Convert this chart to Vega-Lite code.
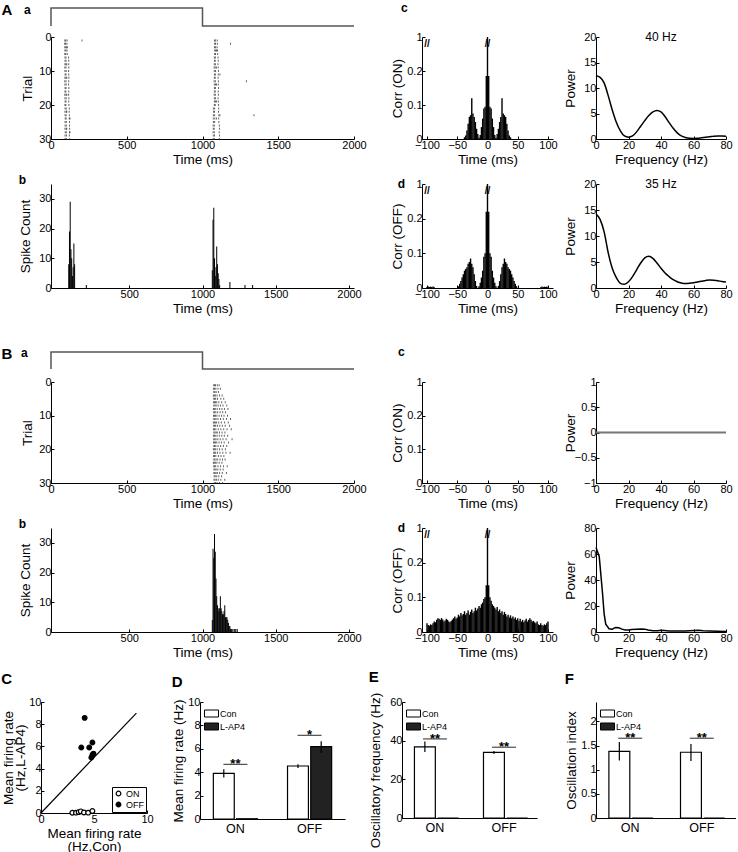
{
"$schema": "https://vega.github.io/schema/vega-lite/v6.json",
"background": "white",
"padding": {"left": 1, "top": 1, "right": 0, "bottom": 0},
"config": {
  "font": "Liberation Sans",
  "view": {"stroke": null},
  "axis": {"grid": false, "domainColor": "#000", "domainWidth": 1, "tickColor": "#000", "tickSize": -3, "labelPadding": 3, "labelColor": "#000", "labelFontSize": 11, "titleColor": "#000", "titleFontSize": 13.5, "titleFontWeight": "normal", "titlePadding": 2, "labelFlush": false, "labelOverlap": false},
  "title": {"fontSize": 12, "fontWeight": "bold", "color": "#000", "anchor": "start", "baseline": "alphabetic"}
},
"datasets": {
  "stim": [{"i":0,"t":0,"s":0},{"i":1,"t":0,"s":1},{"i":2,"t":1000,"s":1},{"i":3,"t":1000,"s":0},{"i":4,"t":2000,"s":0}],
  "blank": [{}],
  "rasterA": [
{"r":1,"t":91},{"r":1,"t":97},{"r":1,"t":106},{"r":1,"t":1079},{"r":1,"t":1085},{"r":1,"t":1097},{"r":1,"t":205},
{"r":2,"t":90},{"r":2,"t":96},{"r":2,"t":105},{"r":2,"t":1080},{"r":2,"t":1086},{"r":2,"t":1098},{"r":2,"t":1185},
{"r":3,"t":91},{"r":3,"t":97},{"r":3,"t":104},{"r":3,"t":107},{"r":3,"t":1079},{"r":3,"t":1086},{"r":3,"t":1096},
{"r":4,"t":92},{"r":4,"t":98},{"r":4,"t":106},{"r":4,"t":1081},{"r":4,"t":1087},{"r":4,"t":1092},{"r":4,"t":1099},
{"r":5,"t":91},{"r":5,"t":97},{"r":5,"t":107},{"r":5,"t":1080},{"r":5,"t":1086},{"r":5,"t":1100},
{"r":6,"t":92},{"r":6,"t":99},{"r":6,"t":116},{"r":6,"t":1078},{"r":6,"t":1085},{"r":6,"t":1103},
{"r":7,"t":93},{"r":7,"t":99},{"r":7,"t":117},{"r":7,"t":1079},{"r":7,"t":1084},{"r":7,"t":1104},
{"r":8,"t":92},{"r":8,"t":98},{"r":8,"t":104},{"r":8,"t":117},{"r":8,"t":1078},{"r":8,"t":1085},{"r":8,"t":1102},
{"r":9,"t":91},{"r":9,"t":99},{"r":9,"t":118},{"r":9,"t":1077},{"r":9,"t":1084},{"r":9,"t":1092},{"r":9,"t":1104},
{"r":10,"t":92},{"r":10,"t":100},{"r":10,"t":116},{"r":10,"t":1078},{"r":10,"t":1086},{"r":10,"t":1105},
{"r":11,"t":93},{"r":11,"t":99},{"r":11,"t":117},{"r":11,"t":1079},{"r":11,"t":1085},{"r":11,"t":1104},{"r":11,"t":1115},
{"r":12,"t":92},{"r":12,"t":98},{"r":12,"t":104},{"r":12,"t":118},{"r":12,"t":1078},{"r":12,"t":1084},{"r":12,"t":1103},
{"r":13,"t":91},{"r":13,"t":99},{"r":13,"t":117},{"r":13,"t":1077},{"r":13,"t":1085},{"r":13,"t":1105},{"r":13,"t":1290},
{"r":14,"t":92},{"r":14,"t":100},{"r":14,"t":116},{"r":14,"t":1078},{"r":14,"t":1086},{"r":14,"t":1092},{"r":14,"t":1104},
{"r":15,"t":93},{"r":15,"t":99},{"r":15,"t":118},{"r":15,"t":1079},{"r":15,"t":1085},{"r":15,"t":1106},
{"r":16,"t":92},{"r":16,"t":98},{"r":16,"t":117},{"r":16,"t":1078},{"r":16,"t":1084},{"r":16,"t":1104},
{"r":17,"t":91},{"r":17,"t":99},{"r":17,"t":104},{"r":17,"t":116},{"r":17,"t":1077},{"r":17,"t":1085},{"r":17,"t":1105},
{"r":18,"t":92},{"r":18,"t":100},{"r":18,"t":118},{"r":18,"t":1078},{"r":18,"t":1086},{"r":18,"t":1103},
{"r":19,"t":93},{"r":19,"t":99},{"r":19,"t":117},{"r":19,"t":1079},{"r":19,"t":1085},{"r":19,"t":1092},{"r":19,"t":1104},
{"r":20,"t":92},{"r":20,"t":98},{"r":20,"t":118},{"r":20,"t":1078},{"r":20,"t":1084},{"r":20,"t":1106},
{"r":21,"t":93},{"r":21,"t":100},{"r":21,"t":121},{"r":21,"t":1072},{"r":21,"t":1080},{"r":21,"t":1107},
{"r":22,"t":92},{"r":22,"t":101},{"r":22,"t":104},{"r":22,"t":120},{"r":22,"t":1073},{"r":22,"t":1079},{"r":22,"t":1106},
{"r":23,"t":93},{"r":23,"t":100},{"r":23,"t":121},{"r":23,"t":1072},{"r":23,"t":1080},{"r":23,"t":1108},{"r":23,"t":1115},{"r":23,"t":1340},
{"r":24,"t":94},{"r":24,"t":100},{"r":24,"t":121},{"r":24,"t":125},{"r":24,"t":1071},{"r":24,"t":1081},{"r":24,"t":1092},{"r":24,"t":1107},
{"r":25,"t":93},{"r":25,"t":101},{"r":25,"t":122},{"r":25,"t":1072},{"r":25,"t":1080},{"r":25,"t":1108},
{"r":26,"t":93},{"r":26,"t":101},{"r":26,"t":122},{"r":26,"t":1070},{"r":26,"t":1078},{"r":26,"t":1111},
{"r":27,"t":92},{"r":27,"t":100},{"r":27,"t":104},{"r":27,"t":123},{"r":27,"t":1071},{"r":27,"t":1077},{"r":27,"t":1112},
{"r":28,"t":94},{"r":28,"t":101},{"r":28,"t":122},{"r":28,"t":125},{"r":28,"t":1070},{"r":28,"t":1078},{"r":28,"t":1110},
{"r":29,"t":93},{"r":29,"t":102},{"r":29,"t":121},{"r":29,"t":1071},{"r":29,"t":1079},{"r":29,"t":1112},
{"r":30,"t":93},{"r":30,"t":101},{"r":30,"t":123},{"r":30,"t":1070},{"r":30,"t":1078},{"r":30,"t":1111}
  ],
  "rasterB": [
{"r":1,"t":1074},{"r":1,"t":1080},{"r":1,"t":1086},{"r":1,"t":1098},{"r":1,"t":1110},
{"r":2,"t":1073},{"r":2,"t":1079},{"r":2,"t":1088},{"r":2,"t":1102},{"r":2,"t":1118},
{"r":3,"t":1075},{"r":3,"t":1081},{"r":3,"t":1090},{"r":3,"t":1105},
{"r":4,"t":1072},{"r":4,"t":1078},{"r":4,"t":1085},{"r":4,"t":1096},{"r":4,"t":1112},{"r":4,"t":1130},
{"r":5,"t":1074},{"r":5,"t":1080},{"r":5,"t":1087},{"r":5,"t":1099},{"r":5,"t":1121},{"r":5,"t":1140},
{"r":6,"t":1073},{"r":6,"t":1079},{"r":6,"t":1086},{"r":6,"t":1094},{"r":6,"t":1108},{"r":6,"t":1127},{"r":6,"t":1150},
{"r":7,"t":1075},{"r":7,"t":1082},{"r":7,"t":1090},{"r":7,"t":1103},{"r":7,"t":1118},{"r":7,"t":1135},{"r":7,"t":1160},
{"r":8,"t":1072},{"r":8,"t":1078},{"r":8,"t":1084},{"r":8,"t":1097},{"r":8,"t":1113},{"r":8,"t":1128},{"r":8,"t":1145},{"r":8,"t":1168},
{"r":9,"t":1074},{"r":9,"t":1080},{"r":9,"t":1088},{"r":9,"t":1100},{"r":9,"t":1116},{"r":9,"t":1133},{"r":9,"t":1152},
{"r":10,"t":1073},{"r":10,"t":1079},{"r":10,"t":1086},{"r":10,"t":1095},{"r":10,"t":1110},{"r":10,"t":1126},{"r":10,"t":1142},{"r":10,"t":1165},
{"r":11,"t":1075},{"r":11,"t":1081},{"r":11,"t":1089},{"r":11,"t":1102},{"r":11,"t":1119},{"r":11,"t":1137},{"r":11,"t":1158},{"r":11,"t":1185},
{"r":12,"t":1072},{"r":12,"t":1078},{"r":12,"t":1085},{"r":12,"t":1093},{"r":12,"t":1107},{"r":12,"t":1124},{"r":12,"t":1146},{"r":12,"t":1170},
{"r":13,"t":1074},{"r":13,"t":1080},{"r":13,"t":1087},{"r":13,"t":1099},{"r":13,"t":1114},{"r":13,"t":1131},{"r":13,"t":1150},{"r":13,"t":1178},
{"r":14,"t":1073},{"r":14,"t":1079},{"r":14,"t":1088},{"r":14,"t":1104},{"r":14,"t":1121},{"r":14,"t":1140},{"r":14,"t":1162},{"r":14,"t":1190},
{"r":15,"t":1075},{"r":15,"t":1082},{"r":15,"t":1090},{"r":15,"t":1098},{"r":15,"t":1112},{"r":15,"t":1129},{"r":15,"t":1148},
{"r":16,"t":1072},{"r":16,"t":1078},{"r":16,"t":1084},{"r":16,"t":1096},{"r":16,"t":1111},{"r":16,"t":1127},{"r":16,"t":1144},{"r":16,"t":1166},
{"r":17,"t":1074},{"r":17,"t":1081},{"r":17,"t":1089},{"r":17,"t":1101},{"r":17,"t":1117},{"r":17,"t":1135},{"r":17,"t":1156},{"r":17,"t":1195},
{"r":18,"t":1073},{"r":18,"t":1079},{"r":18,"t":1086},{"r":18,"t":1094},{"r":18,"t":1109},{"r":18,"t":1125},{"r":18,"t":1143},{"r":18,"t":1172},
{"r":19,"t":1075},{"r":19,"t":1080},{"r":19,"t":1088},{"r":19,"t":1103},{"r":19,"t":1120},{"r":19,"t":1138},{"r":19,"t":1160},
{"r":20,"t":1072},{"r":20,"t":1078},{"r":20,"t":1085},{"r":20,"t":1097},{"r":20,"t":1113},{"r":20,"t":1130},{"r":20,"t":1151},
{"r":21,"t":1074},{"r":21,"t":1080},{"r":21,"t":1087},{"r":21,"t":1099},{"r":21,"t":1115},{"r":21,"t":1134},{"r":21,"t":1155},{"r":21,"t":1182},
{"r":22,"t":1073},{"r":22,"t":1079},{"r":22,"t":1088},{"r":22,"t":1105},{"r":22,"t":1122},{"r":22,"t":1141},
{"r":23,"t":1075},{"r":23,"t":1081},{"r":23,"t":1090},{"r":23,"t":1100},{"r":23,"t":1116},{"r":23,"t":1132},{"r":23,"t":1149},
{"r":24,"t":1072},{"r":24,"t":1078},{"r":24,"t":1085},{"r":24,"t":1095},{"r":24,"t":1110},{"r":24,"t":1128},
{"r":25,"t":1074},{"r":25,"t":1080},{"r":25,"t":1087},{"r":25,"t":1102},{"r":25,"t":1119},{"r":25,"t":1139},{"r":25,"t":1163},
{"r":26,"t":1076},{"r":26,"t":1082},{"r":26,"t":1090},{"r":26,"t":1101},{"r":26,"t":1117},{"r":26,"t":1136},
{"r":27,"t":1075},{"r":27,"t":1081},{"r":27,"t":1089},{"r":27,"t":1098},{"r":27,"t":1113},{"r":27,"t":1131},{"r":27,"t":1158},
{"r":28,"t":1077},{"r":28,"t":1084},{"r":28,"t":1094},{"r":28,"t":1108},{"r":28,"t":1126},
{"r":29,"t":1076},{"r":29,"t":1083},{"r":29,"t":1092},{"r":29,"t":1104},{"r":29,"t":1121},{"r":29,"t":1147},
{"r":30,"t":1078},{"r":30,"t":1086},{"r":30,"t":1097},{"r":30,"t":1112},{"r":30,"t":1133}
  ],
  "histA": [{"t":87,"n":8},{"t":92,"n":19},{"t":97,"n":29},{"t":102,"n":13},{"t":107,"n":10},{"t":112,"n":4},{"t":117,"n":7},{"t":122,"n":15},{"t":127,"n":8},{"t":207,"n":1},{"t":1067,"n":6},{"t":1072,"n":23},{"t":1077,"n":27},{"t":1082,"n":10},{"t":1087,"n":4},{"t":1092,"n":7},{"t":1097,"n":14},{"t":1102,"n":8},{"t":1107,"n":5},{"t":1112,"n":3},{"t":1117,"n":1},{"t":1187,"n":2},{"t":1290,"n":1},{"t":1342,"n":1}],
  "histB": [{"t":1067,"n":4},{"t":1072,"n":28},{"t":1077,"n":25},{"t":1082,"n":33},{"t":1087,"n":27},{"t":1092,"n":18},{"t":1097,"n":12},{"t":1102,"n":9},{"t":1107,"n":8},{"t":1112,"n":7},{"t":1117,"n":8},{"t":1122,"n":12},{"t":1127,"n":8},{"t":1132,"n":7},{"t":1137,"n":6},{"t":1142,"n":6},{"t":1147,"n":7},{"t":1152,"n":9},{"t":1157,"n":5},{"t":1162,"n":5},{"t":1167,"n":5},{"t":1172,"n":4},{"t":1177,"n":3},{"t":1182,"n":2},{"t":1187,"n":2},{"t":1192,"n":1},{"t":1197,"n":1},{"t":1207,"n":1},{"t":1217,"n":1},{"t":1227,"n":1},{"t":1237,"n":1}],
  "corrAon": [{"c":-38,"v":0.005},{"c":-36,"v":0.01},{"c":-34,"v":0.025},{"c":-32,"v":0.045},{"c":-30,"v":0.065},{"c":-28,"v":0.07},{"c":-26,"v":0.12},{"c":-24,"v":0.075},{"c":-22,"v":0.065},{"c":-20,"v":0.05},{"c":-18,"v":0.03},{"c":-16,"v":0.015},{"c":-14,"v":0.004},{"c":-12,"v":0.012},{"c":-10,"v":0.035},{"c":-8,"v":0.06},{"c":-6,"v":0.09},{"c":-4,"v":0.095},{"c":-2,"v":0.185},{"c":0,"v":1},{"c":2,"v":0.185},{"c":4,"v":0.095},{"c":6,"v":0.09},{"c":8,"v":0.06},{"c":10,"v":0.035},{"c":12,"v":0.012},{"c":14,"v":0.004},{"c":16,"v":0.015},{"c":18,"v":0.03},{"c":20,"v":0.05},{"c":22,"v":0.065},{"c":24,"v":0.12},{"c":26,"v":0.075},{"c":28,"v":0.07},{"c":30,"v":0.065},{"c":32,"v":0.045},{"c":34,"v":0.025},{"c":36,"v":0.01},{"c":38,"v":0.005}],
  "corrAoff": [{"c":-100,"v":0.003},{"c":-98,"v":0.004},{"c":-96,"v":0.003},{"c":-94,"v":0.004},{"c":-92,"v":0.003},{"c":-90,"v":0.004},{"c":-88,"v":0.002},{"c":-48,"v":0.005},{"c":-46,"v":0.012},{"c":-44,"v":0.02},{"c":-42,"v":0.03},{"c":-40,"v":0.04},{"c":-38,"v":0.05},{"c":-36,"v":0.055},{"c":-34,"v":0.06},{"c":-32,"v":0.07},{"c":-30,"v":0.075},{"c":-28,"v":0.085},{"c":-26,"v":0.07},{"c":-24,"v":0.06},{"c":-22,"v":0.04},{"c":-20,"v":0.02},{"c":-18,"v":0.006},{"c":-14,"v":0.005},{"c":-12,"v":0.015},{"c":-10,"v":0.03},{"c":-8,"v":0.05},{"c":-6,"v":0.09},{"c":-4,"v":0.1},{"c":-2,"v":0.22},{"c":0,"v":1},{"c":2,"v":0.22},{"c":4,"v":0.1},{"c":6,"v":0.09},{"c":8,"v":0.05},{"c":10,"v":0.03},{"c":12,"v":0.015},{"c":14,"v":0.005},{"c":18,"v":0.006},{"c":20,"v":0.02},{"c":22,"v":0.04},{"c":24,"v":0.06},{"c":26,"v":0.07},{"c":28,"v":0.085},{"c":30,"v":0.075},{"c":32,"v":0.07},{"c":34,"v":0.06},{"c":36,"v":0.055},{"c":38,"v":0.05},{"c":40,"v":0.04},{"c":42,"v":0.03},{"c":44,"v":0.02},{"c":46,"v":0.012},{"c":48,"v":0.005},{"c":88,"v":0.002},{"c":90,"v":0.004},{"c":92,"v":0.003},{"c":94,"v":0.004},{"c":96,"v":0.003},{"c":98,"v":0.004},{"c":100,"v":0.003}],
  "corrBon": [{"c":0,"v":0}],
  "corrBoff": [{"c":-100,"v":0.025},{"c":-98,"v":0.02},{"c":-96,"v":0.018},{"c":-94,"v":0.022},{"c":-92,"v":0.02},{"c":-90,"v":0.025},{"c":-88,"v":0.03},{"c":-86,"v":0.028},{"c":-84,"v":0.035},{"c":-82,"v":0.04},{"c":-80,"v":0.038},{"c":-78,"v":0.035},{"c":-76,"v":0.04},{"c":-74,"v":0.036},{"c":-72,"v":0.03},{"c":-70,"v":0.033},{"c":-68,"v":0.038},{"c":-66,"v":0.035},{"c":-64,"v":0.03},{"c":-62,"v":0.028},{"c":-60,"v":0.032},{"c":-58,"v":0.036},{"c":-56,"v":0.04},{"c":-54,"v":0.045},{"c":-52,"v":0.038},{"c":-50,"v":0.042},{"c":-48,"v":0.05},{"c":-46,"v":0.045},{"c":-44,"v":0.055},{"c":-42,"v":0.048},{"c":-40,"v":0.052},{"c":-38,"v":0.06},{"c":-36,"v":0.05},{"c":-34,"v":0.055},{"c":-32,"v":0.062},{"c":-30,"v":0.05},{"c":-28,"v":0.058},{"c":-26,"v":0.065},{"c":-24,"v":0.055},{"c":-22,"v":0.06},{"c":-20,"v":0.07},{"c":-18,"v":0.062},{"c":-16,"v":0.068},{"c":-14,"v":0.075},{"c":-12,"v":0.07},{"c":-10,"v":0.08},{"c":-8,"v":0.085},{"c":-6,"v":0.095},{"c":-4,"v":0.1},{"c":-2,"v":0.135},{"c":0,"v":1},{"c":2,"v":0.135},{"c":4,"v":0.1},{"c":6,"v":0.09},{"c":8,"v":0.08},{"c":10,"v":0.075},{"c":12,"v":0.07},{"c":14,"v":0.065},{"c":16,"v":0.072},{"c":18,"v":0.06},{"c":20,"v":0.065},{"c":22,"v":0.055},{"c":24,"v":0.06},{"c":26,"v":0.05},{"c":28,"v":0.058},{"c":30,"v":0.052},{"c":32,"v":0.045},{"c":34,"v":0.05},{"c":36,"v":0.042},{"c":38,"v":0.048},{"c":40,"v":0.04},{"c":42,"v":0.045},{"c":44,"v":0.038},{"c":46,"v":0.042},{"c":48,"v":0.035},{"c":50,"v":0.04},{"c":52,"v":0.032},{"c":54,"v":0.038},{"c":56,"v":0.03},{"c":58,"v":0.035},{"c":60,"v":0.028},{"c":62,"v":0.033},{"c":64,"v":0.038},{"c":66,"v":0.03},{"c":68,"v":0.035},{"c":70,"v":0.04},{"c":72,"v":0.035},{"c":74,"v":0.03},{"c":76,"v":0.032},{"c":78,"v":0.028},{"c":80,"v":0.025},{"c":82,"v":0.03},{"c":84,"v":0.022},{"c":86,"v":0.02},{"c":88,"v":0.025},{"c":90,"v":0.02},{"c":92,"v":0.018},{"c":94,"v":0.022},{"c":96,"v":0.02},{"c":98,"v":0.025},{"c":100,"v":0.03}],
  "brk": [{"c":-100,"v":0.28},{"c":0,"v":0.28}],
  "powAon": [{"f":0,"p":12.4},{"f":2.5,"p":12.1},{"f":5,"p":11},{"f":7.5,"p":8.5},{"f":10,"p":5.7},{"f":12.5,"p":3.3},{"f":15,"p":1.6},{"f":17.5,"p":0.6},{"f":20,"p":0.35},{"f":22.5,"p":0.6},{"f":25,"p":1.4},{"f":27.5,"p":2.5},{"f":30,"p":3.6},{"f":32.5,"p":4.6},{"f":35,"p":5.3},{"f":37.5,"p":5.6},{"f":40,"p":5.3},{"f":42.5,"p":4.4},{"f":45,"p":3.2},{"f":47.5,"p":2.1},{"f":50,"p":1.2},{"f":52.5,"p":0.6},{"f":55,"p":0.3},{"f":57.5,"p":0.15},{"f":60,"p":0.12},{"f":62.5,"p":0.15},{"f":65,"p":0.25},{"f":67.5,"p":0.35},{"f":70,"p":0.45},{"f":72.5,"p":0.55},{"f":75,"p":0.6},{"f":77.5,"p":0.6},{"f":80,"p":0.55}],
  "powAoff": [{"f":0,"p":14.2},{"f":2.5,"p":13.2},{"f":5,"p":10.8},{"f":7.5,"p":6.8},{"f":10,"p":3.8},{"f":12.5,"p":2.0},{"f":15,"p":0.9},{"f":17.5,"p":0.7},{"f":20,"p":1.2},{"f":22.5,"p":2.2},{"f":25,"p":3.5},{"f":27.5,"p":4.8},{"f":30,"p":5.8},{"f":32.5,"p":6.1},{"f":35,"p":5.7},{"f":37.5,"p":4.8},{"f":40,"p":3.8},{"f":42.5,"p":2.9},{"f":45,"p":2.2},{"f":47.5,"p":1.6},{"f":50,"p":1.2},{"f":52.5,"p":0.95},{"f":55,"p":0.85},{"f":57.5,"p":0.9},{"f":60,"p":1.0},{"f":62.5,"p":1.15},{"f":65,"p":1.3},{"f":67.5,"p":1.45},{"f":70,"p":1.55},{"f":72.5,"p":1.5},{"f":75,"p":1.4},{"f":77.5,"p":1.25},{"f":80,"p":1.15}],
  "powBon": [{"f":0,"p":0},{"f":80,"p":0}],
  "powBoff": [{"f":0,"p":65},{"f":2,"p":58},{"f":4,"p":30},{"f":5,"p":14},{"f":6,"p":6},{"f":8,"p":2.5},{"f":10,"p":2.2},{"f":12,"p":3.5},{"f":14,"p":3.2},{"f":16,"p":2.2},{"f":18,"p":1.5},{"f":20,"p":1.6},{"f":22,"p":2},{"f":25,"p":2.2},{"f":28,"p":2.3},{"f":30,"p":2.2},{"f":32,"p":1.5},{"f":35,"p":0.9},{"f":38,"p":1.0},{"f":40,"p":1.3},{"f":42,"p":1.1},{"f":45,"p":0.8},{"f":50,"p":0.7},{"f":55,"p":0.8},{"f":60,"p":1.2},{"f":63,"p":1.4},{"f":66,"p":1.0},{"f":70,"p":0.8},{"f":75,"p":0.6},{"f":80,"p":0.4}],
  "diag": [{"x":0,"y":0},{"x":9,"y":9}],
  "scatter": [{"type":"ON","x":2.95,"y":0.02},{"type":"ON","x":3.3,"y":0.03},{"type":"ON","x":3.55,"y":0.08},{"type":"ON","x":3.75,"y":0.15},{"type":"ON","x":4.05,"y":0.05},{"type":"ON","x":4.45,"y":0.03},{"type":"ON","x":4.85,"y":0.18},{"type":"OFF","x":4.12,"y":8.57},{"type":"OFF","x":3.8,"y":5.9},{"type":"OFF","x":4.55,"y":5.9},{"type":"OFF","x":4.85,"y":6.35},{"type":"OFF","x":4.85,"y":5.25},{"type":"OFF","x":4.75,"y":5.0},{"type":"OFF","x":4.95,"y":5.35}],
  "barD": [{"cond":"ON","drug":"Con","v":3.9,"lo":3.55,"hi":4.25},{"cond":"ON","drug":"L-AP4","v":0.02,"lo":0.02,"hi":0.02},{"cond":"OFF","drug":"Con","v":4.53,"lo":4.35,"hi":4.68},{"cond":"OFF","drug":"L-AP4","v":6.18,"lo":5.65,"hi":6.65}],
  "sigD": [{"cond":"ON","y":4.67,"s":"**"},{"cond":"OFF","y":7.15,"s":"*"}],
  "barE": [{"cond":"ON","drug":"Con","v":36.8,"lo":34.2,"hi":39.6},{"cond":"ON","drug":"L-AP4","v":0,"lo":0,"hi":0},{"cond":"OFF","drug":"Con","v":33.9,"lo":33.1,"hi":34.7},{"cond":"OFF","drug":"L-AP4","v":0,"lo":0,"hi":0}],
  "sigE": [{"cond":"ON","y":40.9,"s":"**"},{"cond":"OFF","y":36.6,"s":"**"}],
  "barF": [{"cond":"ON","drug":"Con","v":1.38,"lo":1.19,"hi":1.57},{"cond":"ON","drug":"L-AP4","v":0,"lo":0,"hi":0},{"cond":"OFF","drug":"Con","v":1.36,"lo":1.18,"hi":1.53},{"cond":"OFF","drug":"L-AP4","v":0,"lo":0,"hi":0}],
  "sigF": [{"cond":"ON","y":1.65,"s":"**"},{"cond":"OFF","y":1.65,"s":"**"}]
},
"spacing": 10,
"resolve": {"scale": {"fill": "independent"}, "legend": {"fill": "independent"}},
"vconcat": [
 {
  "columns": 6,
  "align": "each",
  "bounds": "flush",
  "spacing": {"row": 11, "column": 0},
  "concat": [
   {"width": 10, "height": 1, "data": {"name": "blank"}, "mark": {"type": "point", "opacity": 0}},
   {"width": 303, "height": 18, "data": {"name": "stim"},
    "title": {"text": "a", "anchor": "start", "frame": "group", "dx": -27, "offset": -14.5},
    "mark": {"type": "line", "color": "#555", "strokeWidth": 1.5},
    "encoding": {
      "x": {"field": "t", "type": "quantitative", "scale": {"domain": [0, 2000]}, "axis": null},
      "y": {"field": "s", "type": "quantitative", "scale": {"domain": [0, 1]}, "axis": {"title": "A", "titleAngle": 0, "titleX": -50, "titleY": 6, "titleAlign": "left", "titleBaseline": "alphabetic", "titleFontSize": 15, "titleFontWeight": "bold", "labels": false, "ticks": false, "domain": false}},
      "order": {"field": "i"}}},
   {"width": 68, "height": 1, "data": {"name": "blank"}, "mark": {"type": "point", "opacity": 0}},
   {"width": 131, "height": 18, "data": {"name": "stim"},
    "title": {"text": "c", "anchor": "start", "frame": "group", "dx": -21, "offset": -6.75},
    "mark": {"type": "line", "opacity": 0},
    "encoding": {"x": {"field": "t", "type": "quantitative", "axis": null}, "y": {"field": "s", "type": "quantitative", "axis": null}, "order": {"field": "i"}}},
   {"width": 43, "height": 1, "data": {"name": "blank"}, "mark": {"type": "point", "opacity": 0}},
   {"width": 1, "height": 1, "data": {"name": "blank"}, "mark": {"type": "point", "opacity": 0}},

   {"width": 1, "height": 1, "data": {"name": "blank"}, "mark": {"type": "point", "opacity": 0}},
   {"width": 303, "height": 102, "data": {"name": "rasterA"},
    "mark": {"type": "tick", "orient": "vertical", "size": 2, "thickness": 1, "color": "#222"},
    "encoding": {
      "x": {"field": "t", "type": "quantitative", "scale": {"domain": [0, 2000]}, "axis": {"values": [0, 500, 1000, 1500, 2000], "format": "d", "title": "Time (ms)"}},
      "y": {"field": "r", "type": "quantitative", "scale": {"domain": [0, 30], "reverse": true}, "axis": {"values": [0, 10, 20, 30], "title": "Trial", "titlePadding": 4}}}},
   {"width": 1, "height": 1, "data": {"name": "blank"}, "mark": {"type": "point", "opacity": 0}},
   {"width": 131, "height": 102,
    "encoding": {
      "x": {"field": "c", "type": "quantitative", "scale": {"domain": [-100, 100]}, "axis": {"values": [-100, -50, 0, 50, 100], "title": "Time (ms)", "labelOverlap": false}},
      "y": {"field": "v", "type": "quantitative", "scale": {"domain": [0, 0.3]}, "axis": {"values": [0, 0.1, 0.2, 0.3], "format": "~g", "labelExpr": "datum.value > 0.25 ? '1' : datum.label", "title": "Corr (ON)", "labelOverlap": false}}},
    "layer": [
     {"data": {"name": "corrAon"}, "mark": {"type": "bar", "size": 1.4, "color": "#000", "clip": true}},
     {"data": {"name": "brk"}, "mark": {"type": "text", "text": "//", "fontSize": 10, "fontWeight": "bold", "color": "#000"}}]},
   {"width": 1, "height": 1, "data": {"name": "blank"}, "mark": {"type": "point", "opacity": 0}},
   {"width": 130, "height": 102, "data": {"name": "powAon"},
    "title": {"text": "40 Hz", "anchor": "middle", "frame": "group", "offset": -12.5, "fontWeight": "normal", "fontSize": 12},
    "mark": {"type": "line", "color": "#000", "strokeWidth": 1.5, "interpolate": "monotone"},
    "encoding": {
      "x": {"field": "f", "type": "quantitative", "scale": {"domain": [0, 80]}, "axis": {"values": [0, 20, 40, 60, 80], "title": "Frequency (Hz)"}},
      "y": {"field": "p", "type": "quantitative", "scale": {"domain": [0, 20]}, "axis": {"values": [0, 5, 10, 15, 20], "title": "Power", "titlePadding": 6}}}},

   {"width": 1, "height": 23, "data": {"name": "blank"}, "mark": {"type": "point", "opacity": 0}},
   {"width": 1, "height": 1, "data": {"name": "blank"}, "mark": {"type": "point", "opacity": 0}},
   {"width": 1, "height": 1, "data": {"name": "blank"}, "mark": {"type": "point", "opacity": 0}},
   {"width": 1, "height": 1, "data": {"name": "blank"}, "mark": {"type": "point", "opacity": 0}},
   {"width": 1, "height": 1, "data": {"name": "blank"}, "mark": {"type": "point", "opacity": 0}},
   {"width": 1, "height": 1, "data": {"name": "blank"}, "mark": {"type": "point", "opacity": 0}},

   {"width": 1, "height": 1, "data": {"name": "blank"}, "mark": {"type": "point", "opacity": 0}},
   {"width": 303, "height": 104, "data": {"name": "histA"},
    "title": {"text": "b", "anchor": "start", "frame": "bounds", "offset": -3},
    "mark": {"type": "bar", "size": 1, "color": "#000"},
    "encoding": {
      "x": {"field": "t", "type": "quantitative", "scale": {"domain": [0, 2000]}, "axis": {"values": [500, 1000, 1500, 2000], "format": "d", "title": "Time (ms)"}},
      "y": {"field": "n", "type": "quantitative", "scale": {"domain": [0, 35]}, "axis": {"values": [0, 10, 20, 30], "title": "Spike Count", "titlePadding": 6}}}},
   {"width": 1, "height": 1, "data": {"name": "blank"}, "mark": {"type": "point", "opacity": 0}},
   {"width": 131, "height": 104,
    "title": {"text": "d", "anchor": "start", "frame": "bounds", "dx": 7, "offset": -12.5},
    "encoding": {
      "x": {"field": "c", "type": "quantitative", "scale": {"domain": [-100, 100]}, "axis": {"values": [-100, -50, 0, 50, 100], "title": "Time (ms)", "labelOverlap": false}},
      "y": {"field": "v", "type": "quantitative", "scale": {"domain": [0, 0.3]}, "axis": {"values": [0, 0.1, 0.2, 0.3], "format": "~g", "labelExpr": "datum.value > 0.25 ? '1' : datum.label", "title": "Corr (OFF)", "labelOverlap": false}}},
    "layer": [
     {"data": {"name": "corrAoff"}, "mark": {"type": "bar", "size": 1.4, "color": "#000", "clip": true}},
     {"data": {"name": "brk"}, "mark": {"type": "text", "text": "//", "fontSize": 10, "fontWeight": "bold", "color": "#000"}}]},
   {"width": 1, "height": 1, "data": {"name": "blank"}, "mark": {"type": "point", "opacity": 0}},
   {"width": 130, "height": 104, "data": {"name": "powAoff"},
    "title": {"text": "35 Hz", "anchor": "middle", "frame": "group", "offset": -12.5, "fontWeight": "normal", "fontSize": 12},
    "mark": {"type": "line", "color": "#000", "strokeWidth": 1.5, "interpolate": "monotone"},
    "encoding": {
      "x": {"field": "f", "type": "quantitative", "scale": {"domain": [0, 80]}, "axis": {"values": [0, 20, 40, 60, 80], "title": "Frequency (Hz)"}},
      "y": {"field": "p", "type": "quantitative", "scale": {"domain": [0, 20]}, "axis": {"values": [0, 5, 10, 15, 20], "title": "Power", "titlePadding": 6}}}},

   {"width": 1, "height": 42, "data": {"name": "blank"}, "mark": {"type": "point", "opacity": 0}},
   {"width": 1, "height": 1, "data": {"name": "blank"}, "mark": {"type": "point", "opacity": 0}},
   {"width": 1, "height": 1, "data": {"name": "blank"}, "mark": {"type": "point", "opacity": 0}},
   {"width": 1, "height": 1, "data": {"name": "blank"}, "mark": {"type": "point", "opacity": 0}},
   {"width": 1, "height": 1, "data": {"name": "blank"}, "mark": {"type": "point", "opacity": 0}},
   {"width": 1, "height": 1, "data": {"name": "blank"}, "mark": {"type": "point", "opacity": 0}},

   {"width": 1, "height": 1, "data": {"name": "blank"}, "mark": {"type": "point", "opacity": 0}},
   {"width": 303, "height": 19, "data": {"name": "stim"},
    "title": {"text": "a", "anchor": "start", "frame": "group", "dx": -30, "offset": -13.5},
    "mark": {"type": "line", "color": "#555", "strokeWidth": 1.5},
    "encoding": {
      "x": {"field": "t", "type": "quantitative", "scale": {"domain": [0, 2000]}, "axis": null},
      "y": {"field": "s", "type": "quantitative", "scale": {"domain": [-0.1176, 1]}, "axis": {"title": "B", "titleAngle": 0, "titleX": -50, "titleY": 6, "titleAlign": "left", "titleBaseline": "alphabetic", "titleFontSize": 15, "titleFontWeight": "bold", "labels": false, "ticks": false, "domain": false}},
      "order": {"field": "i"}}},
   {"width": 1, "height": 1, "data": {"name": "blank"}, "mark": {"type": "point", "opacity": 0}},
   {"width": 131, "height": 19, "data": {"name": "stim"},
    "title": {"text": "c", "anchor": "start", "frame": "group", "dx": -24, "offset": -6.75},
    "mark": {"type": "line", "opacity": 0},
    "encoding": {"x": {"field": "t", "type": "quantitative", "axis": null}, "y": {"field": "s", "type": "quantitative", "axis": null}, "order": {"field": "i"}}},
   {"width": 1, "height": 1, "data": {"name": "blank"}, "mark": {"type": "point", "opacity": 0}},
   {"width": 1, "height": 1, "data": {"name": "blank"}, "mark": {"type": "point", "opacity": 0}},

   {"width": 1, "height": 1, "data": {"name": "blank"}, "mark": {"type": "point", "opacity": 0}},
   {"width": 303, "height": 101, "data": {"name": "rasterB"},
    "mark": {"type": "tick", "orient": "vertical", "size": 2, "thickness": 1, "color": "#222"},
    "encoding": {
      "x": {"field": "t", "type": "quantitative", "scale": {"domain": [0, 2000]}, "axis": {"values": [0, 500, 1000, 1500, 2000], "format": "d", "title": "Time (ms)"}},
      "y": {"field": "r", "type": "quantitative", "scale": {"domain": [0, 30], "reverse": true}, "axis": {"values": [0, 10, 20, 30], "title": "Trial", "titlePadding": 4}}}},
   {"width": 1, "height": 1, "data": {"name": "blank"}, "mark": {"type": "point", "opacity": 0}},
   {"width": 131, "height": 101, "data": {"name": "corrBon"},
    "mark": {"type": "bar", "size": 1.4, "color": "#000"},
    "encoding": {
      "x": {"field": "c", "type": "quantitative", "scale": {"domain": [-100, 100]}, "axis": {"values": [-100, -50, 0, 50, 100], "title": "Time (ms)"}},
      "y": {"field": "v", "type": "quantitative", "scale": {"domain": [0, 0.3]}, "axis": {"values": [0, 0.1, 0.2, 0.3], "format": "~g", "labelExpr": "datum.value > 0.25 ? '1' : datum.label", "title": "Corr (ON)"}}}},
   {"width": 1, "height": 1, "data": {"name": "blank"}, "mark": {"type": "point", "opacity": 0}},
   {"width": 130, "height": 101, "data": {"name": "powBon"},
    "mark": {"type": "line", "color": "#777", "strokeWidth": 2},
    "encoding": {
      "x": {"field": "f", "type": "quantitative", "scale": {"domain": [0, 80]}, "axis": {"values": [0, 20, 40, 60, 80], "title": "Frequency (Hz)"}},
      "y": {"field": "p", "type": "quantitative", "scale": {"domain": [-1, 1]}, "axis": {"values": [-1, -0.5, 0, 0.5, 1], "format": "~g", "title": "Power", "titlePadding": -3}}}},

   {"width": 1, "height": 23, "data": {"name": "blank"}, "mark": {"type": "point", "opacity": 0}},
   {"width": 1, "height": 1, "data": {"name": "blank"}, "mark": {"type": "point", "opacity": 0}},
   {"width": 1, "height": 1, "data": {"name": "blank"}, "mark": {"type": "point", "opacity": 0}},
   {"width": 1, "height": 1, "data": {"name": "blank"}, "mark": {"type": "point", "opacity": 0}},
   {"width": 1, "height": 1, "data": {"name": "blank"}, "mark": {"type": "point", "opacity": 0}},
   {"width": 1, "height": 1, "data": {"name": "blank"}, "mark": {"type": "point", "opacity": 0}},

   {"width": 1, "height": 1, "data": {"name": "blank"}, "mark": {"type": "point", "opacity": 0}},
   {"width": 303, "height": 104, "data": {"name": "histB"},
    "title": {"text": "b", "anchor": "start", "frame": "bounds", "offset": -3},
    "mark": {"type": "bar", "size": 1, "color": "#000"},
    "encoding": {
      "x": {"field": "t", "type": "quantitative", "scale": {"domain": [0, 2000]}, "axis": {"values": [500, 1000, 1500, 2000], "format": "d", "title": "Time (ms)"}},
      "y": {"field": "n", "type": "quantitative", "scale": {"domain": [0, 35]}, "axis": {"values": [0, 10, 20, 30], "title": "Spike Count", "titlePadding": 6}}}},
   {"width": 1, "height": 1, "data": {"name": "blank"}, "mark": {"type": "point", "opacity": 0}},
   {"width": 131, "height": 104,
    "title": {"text": "d", "anchor": "start", "frame": "bounds", "dx": 7, "offset": -12.5},
    "encoding": {
      "x": {"field": "c", "type": "quantitative", "scale": {"domain": [-100, 100]}, "axis": {"values": [-100, -50, 0, 50, 100], "title": "Time (ms)", "labelOverlap": false}},
      "y": {"field": "v", "type": "quantitative", "scale": {"domain": [0, 0.3]}, "axis": {"values": [0, 0.1, 0.2, 0.3], "format": "~g", "labelExpr": "datum.value > 0.25 ? '1' : datum.label", "title": "Corr (OFF)", "labelOverlap": false}}},
    "layer": [
     {"data": {"name": "corrBoff"}, "mark": {"type": "bar", "size": 1.4, "color": "#000", "clip": true}},
     {"data": {"name": "brk"}, "mark": {"type": "text", "text": "//", "fontSize": 10, "fontWeight": "bold", "color": "#000"}}]},
   {"width": 1, "height": 1, "data": {"name": "blank"}, "mark": {"type": "point", "opacity": 0}},
   {"width": 130, "height": 104, "data": {"name": "powBoff"},
    "mark": {"type": "line", "color": "#000", "strokeWidth": 1.5},
    "encoding": {
      "x": {"field": "f", "type": "quantitative", "scale": {"domain": [0, 80]}, "axis": {"values": [0, 20, 40, 60, 80], "title": "Frequency (Hz)"}},
      "y": {"field": "p", "type": "quantitative", "scale": {"domain": [0, 80]}, "axis": {"values": [0, 20, 40, 60, 80], "title": "Power", "titlePadding": 6}}}}
  ]
 },
 {"hconcat": [
   {"width": 106, "height": 111,
    "title": {"text": "C", "anchor": "start", "fontSize": 15, "frame": "bounds", "offset": 9.5},
    "encoding": {
      "x": {"field": "x", "type": "quantitative", "scale": {"domain": [0, 10]}, "axis": {"values": [0, 5, 10], "title": ["Mean firing rate", "(Hz,Con)"], "titleLineHeight": 13, "labelOverlap": false}},
      "y": {"field": "y", "type": "quantitative", "scale": {"domain": [0, 10]}, "axis": {"values": [0, 2, 4, 6, 8, 10], "title": ["Mean firing rate", "(Hz,L-AP4)"], "titleLineHeight": 12.5, "titlePadding": 1, "labelOverlap": false}}},
    "layer": [
     {"data": {"name": "diag"}, "mark": {"type": "line", "color": "#000", "strokeWidth": 1.2}},
     {"data": {"name": "scatter"}, "mark": {"type": "point", "shape": "circle", "stroke": "#000", "strokeWidth": 1.2, "size": 22, "opacity": 1},
      "encoding": {
        "fill": {"field": "type", "type": "nominal", "scale": {"domain": ["ON", "OFF"], "range": ["#fff", "#000"]},
                 "legend": {"title": null, "orient": "bottom-right", "offset": 1, "strokeColor": "#000", "fillColor": "#fff", "padding": 2, "labelFontSize": 9, "symbolType": "circle", "symbolSize": 22, "symbolStrokeColor": "#000", "symbolStrokeWidth": 1.2, "rowPadding": 0, "labelOffset": 3}}}}
    ]},
   {"width": 53, "height": 1, "data": {"name": "blank"}, "mark": {"type": "point", "opacity": 0}},
   {"width": 145, "height": 117,
    "title": {"text": "D", "anchor": "start", "fontSize": 15, "frame": "bounds", "offset": 6.5},
    "encoding": {
      "x": {"field": "cond", "type": "nominal", "sort": ["ON", "OFF"], "scale": {"paddingInner": 0.405, "paddingOuter": 0.18}, "axis": {"title": null, "labelAngle": 0, "ticks": false, "labelFontSize": 12.5, "labelPadding": 3}}},
    "layer": [
     {"data": {"name": "barD"}, "mark": {"type": "bar", "stroke": "#000", "strokeWidth": 1.2},
      "encoding": {
        "xOffset": {"field": "drug", "type": "nominal", "sort": ["Con", "L-AP4"], "scale": {"paddingInner": 0.1}},
        "y": {"field": "v", "type": "quantitative", "scale": {"domain": [0, 10]}, "axis": {"values": [0, 2, 4, 6, 8, 10], "title": "Mean firing rate (Hz)", "labelOverlap": false}},
        "fill": {"field": "drug", "type": "nominal", "scale": {"domain": ["Con", "L-AP4"], "range": ["#fff", "#222"]},
                 "legend": {"title": null, "orient": "top-left", "offset": 4, "padding": 0, "labelFontSize": 9, "symbolType": "M-1,-0.5H1V0.5H-1Z", "symbolSize": 196, "symbolStrokeColor": "#000", "symbolStrokeWidth": 1, "rowPadding": -2, "labelOffset": 1}}}},
     {"data": {"name": "barD"}, "mark": {"type": "rule", "color": "#000", "strokeWidth": 1.2},
      "encoding": {
        "xOffset": {"field": "drug", "type": "nominal", "sort": ["Con", "L-AP4"]},
        "y": {"field": "lo", "type": "quantitative", "axis": {"values": [0, 2, 4, 6, 8, 10], "title": "Mean firing rate (Hz)", "labelOverlap": false}}, "y2": {"field": "hi"}}},
     {"data": {"name": "sigD"}, "mark": {"type": "tick", "size": 24, "thickness": 1.2, "color": "#000"},
      "encoding": {"y": {"field": "y", "type": "quantitative", "axis": {"values": [0, 2, 4, 6, 8, 10], "title": "Mean firing rate (Hz)", "labelOverlap": false}}}},
     {"data": {"name": "sigD"}, "mark": {"type": "text", "baseline": "alphabetic", "dy": 4, "fontSize": 13, "fontWeight": "bold", "color": "#000"},
      "encoding": {"y": {"field": "y", "type": "quantitative", "axis": {"values": [0, 2, 4, 6, 8, 10], "title": "Mean firing rate (Hz)", "labelOverlap": false}}, "text": {"field": "s"}}}
    ]},
   {"width": 57, "height": 1, "data": {"name": "blank"}, "mark": {"type": "point", "opacity": 0}},
   {"width": 135, "height": 116,
    "title": {"text": "E", "anchor": "start", "fontSize": 15, "frame": "bounds", "offset": 7.5},
    "encoding": {
      "x": {"field": "cond", "type": "nominal", "sort": ["ON", "OFF"], "scale": {"paddingInner": 0.405, "paddingOuter": 0.18}, "axis": {"title": null, "labelAngle": 0, "ticks": false, "labelFontSize": 12.5, "labelPadding": 3}}},
    "layer": [
     {"data": {"name": "barE"}, "mark": {"type": "bar", "stroke": "#000", "strokeWidth": 1.2},
      "encoding": {
        "xOffset": {"field": "drug", "type": "nominal", "sort": ["Con", "L-AP4"], "scale": {"paddingInner": 0.1}},
        "y": {"field": "v", "type": "quantitative", "scale": {"domain": [0, 60]}, "axis": {"values": [0, 20, 40, 60], "title": "Oscillatory frequency (Hz)", "titlePadding": 7, "titleY": 68, "labelOverlap": false}},
        "fill": {"field": "drug", "type": "nominal", "scale": {"domain": ["Con", "L-AP4"], "range": ["#fff", "#222"]},
                 "legend": {"title": null, "orient": "top-left", "offset": 4, "padding": 0, "labelFontSize": 9, "symbolType": "M-1,-0.5H1V0.5H-1Z", "symbolSize": 196, "symbolStrokeColor": "#000", "symbolStrokeWidth": 1, "rowPadding": -2, "labelOffset": 1}}}},
     {"data": {"name": "barE"}, "mark": {"type": "rule", "color": "#000", "strokeWidth": 1.2},
      "encoding": {
        "xOffset": {"field": "drug", "type": "nominal", "sort": ["Con", "L-AP4"]},
        "y": {"field": "lo", "type": "quantitative", "axis": {"values": [0, 20, 40, 60], "title": "Oscillatory frequency (Hz)", "titlePadding": 7, "titleY": 68, "labelOverlap": false}}, "y2": {"field": "hi"}}},
     {"data": {"name": "sigE"}, "mark": {"type": "tick", "size": 24, "thickness": 1.2, "color": "#000"},
      "encoding": {"y": {"field": "y", "type": "quantitative", "axis": {"values": [0, 20, 40, 60], "title": "Oscillatory frequency (Hz)", "titlePadding": 7, "titleY": 68, "labelOverlap": false}}}},
     {"data": {"name": "sigE"}, "mark": {"type": "text", "baseline": "alphabetic", "dy": 4, "fontSize": 13, "fontWeight": "bold", "color": "#000"},
      "encoding": {"y": {"field": "y", "type": "quantitative", "axis": {"values": [0, 20, 40, 60], "title": "Oscillatory frequency (Hz)", "titlePadding": 7, "titleY": 68, "labelOverlap": false}}, "text": {"field": "s"}}}
    ]},
   {"width": 59, "height": 1, "data": {"name": "blank"}, "mark": {"type": "point", "opacity": 0}},
   {"width": 140, "height": 116,
    "title": {"text": "F", "anchor": "start", "fontSize": 15, "frame": "bounds", "offset": 15},
    "encoding": {
      "x": {"field": "cond", "type": "nominal", "sort": ["ON", "OFF"], "scale": {"paddingInner": 0.405, "paddingOuter": 0.18}, "axis": {"title": null, "labelAngle": 0, "ticks": false, "labelFontSize": 12.5, "labelPadding": 3}}},
    "layer": [
     {"data": {"name": "barF"}, "mark": {"type": "bar", "stroke": "#000", "strokeWidth": 1.2},
      "encoding": {
        "xOffset": {"field": "drug", "type": "nominal", "sort": ["Con", "L-AP4"], "scale": {"paddingInner": 0.1}},
        "y": {"field": "v", "type": "quantitative", "scale": {"domain": [0, 2.32]}, "axis": {"values": [0, 0.5, 1, 1.5, 2], "format": "~g", "title": "Oscillation index", "labelOverlap": false}},
        "fill": {"field": "drug", "type": "nominal", "scale": {"domain": ["Con", "L-AP4"], "range": ["#fff", "#222"]},
                 "legend": {"title": null, "orient": "top-left", "offset": 4, "padding": 0, "labelFontSize": 9, "symbolType": "M-1,-0.5H1V0.5H-1Z", "symbolSize": 196, "symbolStrokeColor": "#000", "symbolStrokeWidth": 1, "rowPadding": -2, "labelOffset": 1}}}},
     {"data": {"name": "barF"}, "mark": {"type": "rule", "color": "#000", "strokeWidth": 1.2},
      "encoding": {
        "xOffset": {"field": "drug", "type": "nominal", "sort": ["Con", "L-AP4"]},
        "y": {"field": "lo", "type": "quantitative", "axis": {"values": [0, 0.5, 1, 1.5, 2], "format": "~g", "title": "Oscillation index", "labelOverlap": false}}, "y2": {"field": "hi"}}},
     {"data": {"name": "sigF"}, "mark": {"type": "tick", "size": 24, "thickness": 1.2, "color": "#000"},
      "encoding": {"y": {"field": "y", "type": "quantitative", "axis": {"values": [0, 0.5, 1, 1.5, 2], "format": "~g", "title": "Oscillation index", "labelOverlap": false}}}},
     {"data": {"name": "sigF"}, "mark": {"type": "text", "baseline": "alphabetic", "dy": 4, "fontSize": 13, "fontWeight": "bold", "color": "#000"},
      "encoding": {"y": {"field": "y", "type": "quantitative", "axis": {"values": [0, 0.5, 1, 1.5, 2], "format": "~g", "title": "Oscillation index", "labelOverlap": false}}, "text": {"field": "s"}}}
    ]}
  ], "bounds": "flush", "spacing": 0, "resolve": {"scale": {"fill": "independent"}, "legend": {"fill": "independent"}}}
]
}
